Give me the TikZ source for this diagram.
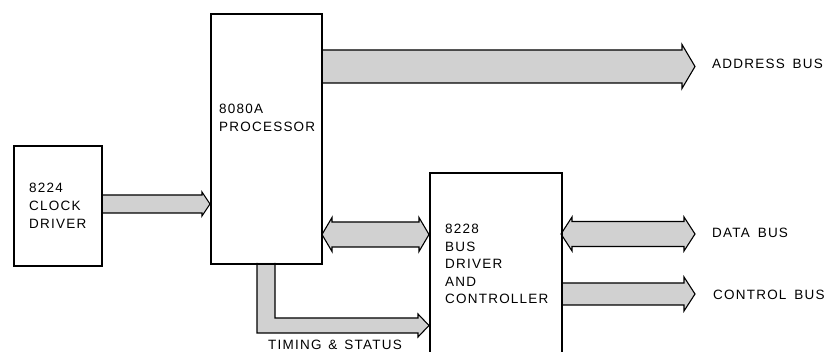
\documentclass[tikz,border=0pt]{standalone}
\usepackage{fontspec}
\setmainfont{Liberation Sans}[LetterSpace=9]
\begin{document}
\begin{tikzpicture}[x=1pt,y=-1pt,
  box/.style={draw,line width=2.2pt,minimum width=#1,inner sep=0,anchor=north west},
  lbl/.style={inner sep=0,anchor=base west,font=\fontsize{13.5}{15}\selectfont},
  bus/.style={fill=black!18,draw=black,line width=1.1pt,line join=miter}]
\useasboundingbox (0,0) rectangle (835,352);
\clip (0,0) rectangle (835,352);
% boxes
\node[box=88pt,minimum height=120pt] (clk) at (13,145) {};
\node[box=111pt,minimum height=250pt] (cpu) at (210,13) {};
\node[box=132pt,minimum height=220pt] (ctl) at (429,172) {};
% labels
\node[lbl] (t1) at (29,193) {8224};
\node[lbl] (t2) at (29,211) {CLOCK};
\node[lbl] (t3) at (29,229) {DRIVER};
\node[lbl] (t4) at (219,114) {8080A};
\node[lbl] (t5) at (219,132) {PROCESSOR};
\node[lbl] (t6) at (445,234) {8228};
\node[lbl] (t7) at (445,251.5) {BUS};
\node[lbl] (t8) at (445,269) {DRIVER};
\node[lbl] (t9) at (445,286.5) {AND};
\node[lbl] (t10) at (445,304) {CONTROLLER};
\node[lbl] (ab) at (712,69) {ADDRESS\hspace{3pt} BUS};
\node[lbl] (db) at (712,237.5) {DATA\hspace{3pt} BUS};
\node[lbl] (cb) at (713,300) {CONTROL\hspace{3pt} BUS};
\node[lbl] (ts) at (268,349) {TIMING\hspace{2pt} \&\hspace{2pt} STATUS};
% address bus
\fill[black!18] (321,50) -- (682,50) -- (682,44.5) -- (695,66.5) -- (682,88.5) -- (682,83) -- (321,83) -- cycle;
\draw[line width=1.1pt] (321,50) -- (682,50) -- (682,44.5) -- (695,66.5) -- (682,88.5) -- (682,83) -- (321,83);
% clock to cpu
\fill[black!18] (101,195) -- (202,195) -- (202,192) -- (210,204) -- (202,216) -- (202,213) -- (101,213) -- cycle;
\draw[line width=1.1pt] (101,195) -- (202,195) -- (202,192) -- (210,204) -- (202,216) -- (202,213) -- (101,213);
% data bus cpu <-> ctl
\draw[bus] (322,234.5) -- (332,217.5) -- (332,222) -- (419,222) -- (419,217.5) -- (429,234.5) -- (419,251.5) -- (419,247) -- (332,247) -- (332,251.5) -- cycle;
% data bus out
\draw[bus] (561,234) -- (572,217) -- (572,221.5) -- (684,221.5) -- (684,217) -- (695,234) -- (684,251) -- (684,246.5) -- (572,246.5) -- (572,251) -- cycle;
% control bus
\fill[black!18] (561,283) -- (684,283) -- (684,277) -- (695,294) -- (684,311) -- (684,305) -- (561,305) -- cycle;
\draw[line width=1.1pt] (561,283) -- (684,283) -- (684,277) -- (695,294) -- (684,311) -- (684,305) -- (561,305);
% timing & status
\fill[black!18] (257,263) -- (257,333) -- (418,333) -- (418,337) -- (429,325.5) -- (418,314) -- (418,318) -- (275,318) -- (275,263) -- cycle;
\draw[line width=1.1pt] (257,263) -- (257,333) -- (418,333) -- (418,337) -- (429,325.5) -- (418,314) -- (418,318) -- (275,318) -- (275,263);
% redraw box borders on top
\node[box=88pt,minimum height=120pt] at (13,145) {};
\node[box=111pt,minimum height=250pt] at (210,13) {};
\node[box=132pt,minimum height=220pt] at (429,172) {};
\end{tikzpicture}
\end{document}
